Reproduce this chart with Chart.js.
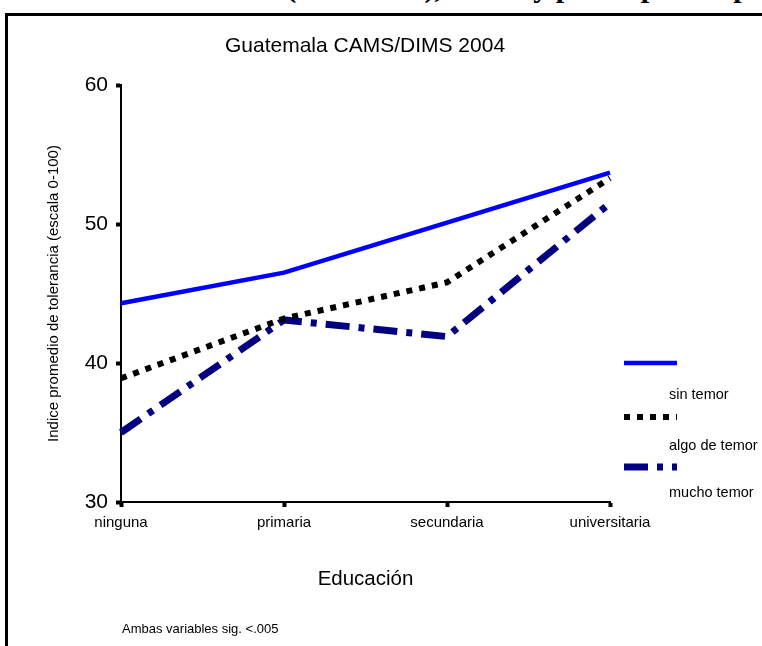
<!DOCTYPE html>
<html>
<head>
<meta charset="utf-8">
<script src="https://cdn.jsdelivr.net/npm/chart.js"></script>
<style>
  html, body { margin: 0; padding: 0; background: #fff; overflow: hidden; }
  #wrap { position: relative; width: 762px; height: 646px; }
  #topTitle { position: absolute; left: 28px; top: -30px; white-space: nowrap;
    font: bold 30px "Liberation Serif", serif; color: #000; }
  #frame { position: absolute; left: 5px; top: 13px; width: 820px; height: 700px;
    border: 3px solid #000; box-sizing: border-box; }
  #myChart { position: absolute; left: 0; top: 0; }
</style>
</head>
<body>
<div id="wrap">
  <div id="topTitle">Gráfico: Tolerancia (educación), temor y participación política por población</div>
  <div id="frame"></div>
  <canvas id="myChart" width="762" height="646"></canvas>
</div>
<script>
var categories = ["ninguna", "primaria", "secundaria", "universitaria"];
var seriesNames = ["sin temor", "algo de temor", "mucho temor"];
var sinTemor = [44.3, 46.5, 50.1, 53.7];
var algoTemor = [38.9, 43.2, 45.8, 53.3];
var muchoTemor = [35.0, 43.1, 41.9, 51.5];
var yTicks = [30, 40, 50, 60];

var font = "Liberation Sans";

// titles, footnote and the legend drawn on the canvas
var extras = {
  id: "extras",
  afterDraw: function (chart) {
    var ctx = chart.ctx;
    ctx.save();
    ctx.fillStyle = "#000";
    ctx.textBaseline = "middle";
    ctx.textAlign = "center";
    ctx.font = "21px " + font;
    ctx.fillText("Guatemala CAMS/DIMS 2004", 365, 46);
    ctx.textAlign = "left";
    ctx.font = "13px " + font;
    ctx.fillText("Ambas variables sig. <.005", 122, 629);

    var rows = [363, 417, 467];
    var textY = [395, 446, 493];
    chart.data.datasets.forEach(function (ds, i) {
      ctx.beginPath();
      ctx.strokeStyle = ds.borderColor;
      ctx.lineWidth = ds.borderWidth;
      ctx.setLineDash(ds.borderDash || []);
      ctx.moveTo(624, rows[i]);
      ctx.lineTo(677, rows[i]);
      ctx.stroke();
      ctx.setLineDash([]);
      ctx.font = "14.5px " + font;
      ctx.fillText(ds.label, 669, textY[i]);
    });
    ctx.restore();
  }
};

new Chart("myChart", {
  type: "line",
  data: {
    labels: categories,
    datasets: [{
      label: seriesNames[0],
      data: sinTemor,
      borderColor: "#0000ff",
      borderWidth: 4.5,
      pointRadius: 0,
      tension: 0
    }, {
      label: seriesNames[1],
      data: algoTemor,
      borderColor: "#000000",
      borderWidth: 6,
      borderDash: [6, 7],
      pointRadius: 0,
      tension: 0
    }, {
      label: seriesNames[2],
      data: muchoTemor,
      borderColor: "#000080",
      borderWidth: 7,
      borderDash: [24, 9, 6, 9],
      pointRadius: 0,
      tension: 0
    }]
  },
  options: {
    responsive: false,
    animation: false,
    layout: { padding: { left: 0, top: 85, right: 152, bottom: 0 } },
    plugins: {
      legend: { display: false },
      title: { display: false },
      tooltip: { enabled: false }
    },
    scales: {
      x: {
        offset: false,
        grid: { drawOnChartArea: false, tickLength: 5, tickWidth: 4, tickColor: "#000" },
        border: { color: "#000", width: 2 },
        ticks: { color: "#000", font: { family: font, size: 15 }, padding: 7, maxRotation: 0 },
        title: { display: true, text: "Educación", color: "#000",
                 font: { family: font, size: 20.5 }, padding: { top: 0, bottom: 54 } },
        afterFit: function (scale) { scale.height = 144; }
      },
      y: {
        min: 30,
        max: 60,
        afterBuildTicks: function (scale) {
          scale.ticks = yTicks.map(function (v) { return { value: v }; });
        },
        grid: { drawOnChartArea: false, tickLength: 5, tickWidth: 4, tickColor: "#000" },
        border: { color: "#000", width: 2 },
        ticks: { color: "#000", font: { family: font, size: 21 }, padding: 8 },
        title: { display: true, text: "Indice promedio de tolerancia (escala 0-100)", color: "#000",
                 font: { family: font, size: 15 }, padding: { top: 45, bottom: 0 } },
        afterFit: function (scale) { scale.width = 121; }
      }
    }
  },
  plugins: [extras]
});
</script>
</body>
</html>
